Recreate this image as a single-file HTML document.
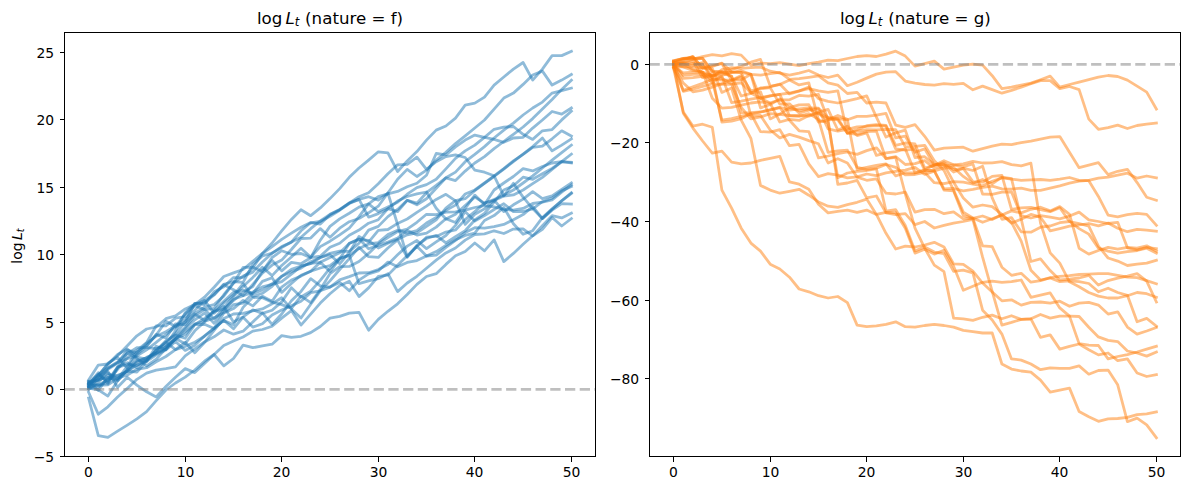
<!DOCTYPE html>
<html><head><meta charset="utf-8"><title>log L_t</title>
<style>
html,body{margin:0;padding:0;background:#fff;}
body{width:1189px;height:490px;overflow:hidden;}
svg{display:block;}
text{font-family:"DejaVu Sans","Liberation Sans",sans-serif;fill:#000;}
.tk{font-size:13.89px;}
.tt{font-size:16.67px;}
.it{font-style:italic;}
.ln{fill:none;stroke-width:2.78;stroke-linejoin:round;stroke-linecap:square;stroke-opacity:0.5;}
.fr{fill:none;stroke:#000;stroke-width:1;shape-rendering:crispEdges;}
</style></head><body>
<svg width="1189" height="490" viewBox="0 0 1189 490">
<rect x="0" y="0" width="1189" height="490" fill="#fff"/>
<defs>
<clipPath id="cl"><rect x="64.5" y="32.5" width="531" height="424"/></clipPath>
<clipPath id="cr"><rect x="649.5" y="32.5" width="531" height="424"/></clipPath>
</defs>

<g clip-path="url(#cl)">
<polyline class="ln" stroke="#1f77b4" points="88.6,380.1 98.3,365.1 107.9,364.0 117.6,355.8 127.3,345.8 136.9,335.8 146.6,329.0 156.2,327.0 165.9,318.7 175.5,315.8 185.2,308.9 194.8,304.6 204.5,297.2 214.1,287.2 223.8,276.5 233.5,272.9 243.1,269.5 252.8,261.4 262.4,253.4 272.1,243.0 281.7,230.8 291.4,219.4 301.0,209.8 310.7,215.7 320.3,207.9 330.0,198.6 339.7,188.6 349.3,177.3 359.0,168.0 368.6,160.1 378.3,151.8 387.9,152.9 397.6,171.5 407.2,160.9 416.9,151.6 426.5,140.1 436.2,130.1 445.9,126.0 455.5,118.1 465.2,105.1 474.8,103.1 484.5,97.1 494.1,85.1 503.8,77.0 513.4,69.1 523.1,62.5 532.7,80.1 542.4,69.1 552.1,55.6 561.7,55.6 571.4,51.4"/>
<polyline class="ln" stroke="#1f77b4" points="88.6,385.5 98.3,375.5 107.9,364.3 117.6,354.5 127.3,349.0 136.9,357.1 146.6,359.1 156.2,351.3 165.9,342.0 175.5,333.5 185.2,322.1 194.8,303.3 204.5,303.0 214.1,295.0 223.8,284.7 233.5,289.7 243.1,295.6 252.8,284.4 262.4,273.1 272.1,265.1 281.7,260.1 291.4,249.5 301.0,238.5 310.7,238.1 320.3,228.6 330.0,237.2 339.7,228.2 349.3,221.7 359.0,218.5 368.6,212.8 378.3,206.2 387.9,193.0 397.6,179.3 407.2,169.4 416.9,176.5 426.5,170.2 436.2,160.1 445.9,152.3 455.5,143.6 465.2,135.8 474.8,128.0 484.5,120.0 494.1,109.1 503.8,98.1 513.4,93.1 523.1,84.4 532.7,75.0 542.4,71.1 552.1,85.1 561.7,80.1 571.4,74.5"/>
<polyline class="ln" stroke="#1f77b4" points="88.6,386.8 98.3,375.8 107.9,363.3 117.6,357.4 127.3,368.1 136.9,354.5 146.6,346.3 156.2,334.4 165.9,338.0 175.5,323.8 185.2,324.8 194.8,314.1 204.5,320.5 214.1,310.4 223.8,301.2 233.5,292.4 243.1,290.0 252.8,293.8 262.4,289.9 272.1,283.8 281.7,276.3 291.4,271.8 301.0,268.2 310.7,261.7 320.3,257.5 330.0,253.4 339.7,251.1 349.3,251.4 359.0,243.3 368.6,230.1 378.3,226.4 387.9,216.6 397.6,209.4 407.2,200.3 416.9,204.8 426.5,198.8 436.2,188.3 445.9,177.8 455.5,180.6 465.2,171.1 474.8,163.0 484.5,156.6 494.1,148.6 503.8,141.5 513.4,134.3 523.1,127.0 532.7,118.6 542.4,109.1 552.1,99.5 561.7,89.4 571.4,80.1"/>
<polyline class="ln" stroke="#1f77b4" points="88.6,382.8 98.3,379.6 107.9,377.7 117.6,375.4 127.3,371.7 136.9,362.5 146.6,357.4 156.2,353.3 165.9,346.8 175.5,339.1 185.2,331.5 194.8,324.7 204.5,318.3 214.1,311.3 223.8,309.3 233.5,300.5 243.1,292.1 252.8,286.6 262.4,270.8 272.1,260.4 281.7,270.9 291.4,262.4 301.0,263.8 310.7,257.7 320.3,256.2 330.0,247.3 339.7,243.2 349.3,235.2 359.0,230.1 368.6,223.2 378.3,219.7 387.9,208.7 397.6,211.7 407.2,200.4 416.9,203.2 426.5,192.7 436.2,185.4 445.9,177.8 455.5,172.1 465.2,161.7 474.8,154.4 484.5,146.6 494.1,138.0 503.8,130.1 513.4,123.1 523.1,115.0 532.7,108.0 542.4,102.1 552.1,93.1 561.7,90.6 571.4,88.1"/>
<polyline class="ln" stroke="#1f77b4" points="88.6,384.1 98.3,374.1 107.9,381.7 117.6,369.5 127.3,357.7 136.9,350.4 146.6,342.7 156.2,325.8 165.9,325.9 175.5,318.1 185.2,316.7 194.8,305.6 204.5,309.6 214.1,308.3 223.8,294.7 233.5,283.0 243.1,267.4 252.8,267.1 262.4,271.6 272.1,257.5 281.7,250.7 291.4,254.3 301.0,253.5 310.7,257.7 320.3,240.2 330.0,226.4 339.7,218.9 349.3,213.2 359.0,207.1 368.6,203.9 378.3,196.7 387.9,193.8 397.6,191.4 407.2,186.8 416.9,183.3 426.5,175.2 436.2,153.5 445.9,154.9 455.5,146.9 465.2,140.1 474.8,135.1 484.5,137.3 494.1,139.4 503.8,142.3 513.4,138.0 523.1,137.3 532.7,128.1 542.4,120.0 552.1,111.5 561.7,114.1 571.4,108.0"/>
<polyline class="ln" stroke="#1f77b4" points="88.6,388.2 98.3,389.8 107.9,396.1 117.6,380.8 127.3,369.6 136.9,359.8 146.6,361.5 156.2,346.2 165.9,349.7 175.5,336.2 185.2,327.5 194.8,315.9 204.5,309.5 214.1,318.7 223.8,308.1 233.5,296.5 243.1,286.4 252.8,277.4 262.4,267.2 272.1,275.6 281.7,265.5 291.4,257.0 301.0,248.3 310.7,257.1 320.3,246.6 330.0,241.2 339.7,234.9 349.3,228.1 359.0,216.7 368.6,203.9 378.3,211.6 387.9,207.0 397.6,202.3 407.2,194.2 416.9,187.6 426.5,184.6 436.2,179.3 445.9,168.9 455.5,158.4 465.2,150.9 474.8,145.1 484.5,137.3 494.1,129.3 503.8,127.2 513.4,126.5 523.1,134.3 532.7,139.4 542.4,130.8 552.1,129.6 561.7,119.9 571.4,111.1"/>
<polyline class="ln" stroke="#1f77b4" points="88.6,385.5 98.3,385.4 107.9,384.8 117.6,378.5 127.3,371.1 136.9,365.2 146.6,360.9 156.2,350.5 165.9,340.7 175.5,335.1 185.2,338.3 194.8,324.6 204.5,324.3 214.1,328.5 223.8,313.1 233.5,308.6 243.1,300.4 252.8,305.9 262.4,296.2 272.1,301.2 281.7,287.1 291.4,280.0 301.0,276.1 310.7,271.3 320.3,268.0 330.0,265.5 339.7,258.2 349.3,255.4 359.0,248.5 368.6,244.0 378.3,242.6 387.9,234.6 397.6,230.2 407.2,233.2 416.9,230.5 426.5,223.0 436.2,217.4 445.9,210.4 455.5,205.1 465.2,194.0 474.8,190.0 484.5,183.0 494.1,175.8 503.8,168.7 513.4,160.9 523.1,154.4 532.7,147.3 542.4,146.2 552.1,138.8 561.7,130.8 571.4,136.1"/>
<polyline class="ln" stroke="#1f77b4" points="88.6,381.4 98.3,390.4 107.9,377.3 117.6,380.8 127.3,370.3 136.9,361.2 146.6,357.7 156.2,353.3 165.9,349.3 175.5,339.1 185.2,334.2 194.8,323.9 204.5,321.5 214.1,318.0 223.8,312.6 233.5,304.6 243.1,303.2 252.8,293.3 262.4,281.4 272.1,277.7 281.7,292.4 291.4,283.4 301.0,275.3 310.7,271.3 320.3,262.3 330.0,271.6 339.7,259.0 349.3,243.2 359.0,239.6 368.6,240.4 378.3,248.0 387.9,243.3 397.6,239.5 407.2,234.8 416.9,232.8 426.5,226.4 436.2,219.9 445.9,208.1 455.5,200.6 465.2,198.7 474.8,190.7 484.5,183.3 494.1,176.5 503.8,169.1 513.4,161.7 523.1,154.1 532.7,146.6 542.4,138.0 552.1,150.9 561.7,145.1 571.4,138.8"/>
<polyline class="ln" stroke="#1f77b4" points="88.6,389.5 98.3,381.9 107.9,372.8 117.6,379.4 127.3,366.1 136.9,351.8 146.6,345.6 156.2,335.0 165.9,321.2 175.5,326.5 185.2,314.0 194.8,304.7 204.5,300.6 214.1,294.5 223.8,284.3 233.5,281.7 243.1,282.4 252.8,264.4 262.4,256.0 272.1,253.1 281.7,247.5 291.4,242.0 301.0,237.2 310.7,228.7 320.3,221.0 330.0,214.3 339.7,209.4 349.3,202.9 359.0,199.4 368.6,196.7 378.3,200.1 387.9,193.0 397.6,224.5 407.2,256.6 416.9,246.6 426.5,237.2 436.2,236.4 445.9,232.1 455.5,230.0 465.2,219.6 474.8,211.6 484.5,203.1 494.1,199.6 503.8,195.0 513.4,190.0 523.1,183.0 532.7,175.8 542.4,168.0 552.1,160.1 561.7,152.7 571.4,145.1"/>
<polyline class="ln" stroke="#1f77b4" points="88.6,386.8 98.3,379.0 107.9,368.3 117.6,362.6 127.3,358.7 136.9,355.8 146.6,349.8 156.2,342.3 165.9,334.5 175.5,327.1 185.2,322.1 194.8,313.4 204.5,307.2 214.1,304.6 223.8,296.1 233.5,283.0 243.1,276.1 252.8,272.1 262.4,262.0 272.1,253.2 281.7,246.6 291.4,242.2 301.0,230.8 310.7,222.8 320.3,221.5 330.0,216.3 339.7,210.2 349.3,203.5 359.0,199.4 368.6,217.2 378.3,213.6 387.9,208.9 397.6,201.0 407.2,196.5 416.9,193.8 426.5,192.0 436.2,208.2 445.9,219.0 455.5,214.3 465.2,205.5 474.8,197.1 484.5,203.1 494.1,200.5 503.8,196.0 513.4,194.9 523.1,190.0 532.7,183.7 542.4,177.3 552.1,169.4 561.7,161.6 571.4,154.1"/>
<polyline class="ln" stroke="#1f77b4" points="88.6,384.1 98.3,372.6 107.9,383.9 117.6,368.1 127.3,352.5 136.9,358.5 146.6,365.8 156.2,359.2 165.9,348.4 175.5,338.7 185.2,328.8 194.8,319.8 204.5,313.1 214.1,323.3 223.8,310.0 233.5,299.2 243.1,295.8 252.8,292.1 262.4,286.9 272.1,284.3 281.7,281.7 291.4,274.1 301.0,266.4 310.7,263.4 320.3,262.3 330.0,257.4 339.7,252.7 349.3,243.4 359.0,238.8 368.6,248.8 378.3,245.3 387.9,242.1 397.6,238.1 407.2,230.5 416.9,235.1 426.5,233.1 436.2,227.1 445.9,218.8 455.5,222.5 465.2,208.5 474.8,195.1 484.5,204.5 494.1,190.0 503.8,183.0 513.4,176.5 523.1,168.7 532.7,170.9 542.4,166.5 552.1,163.0 561.7,161.6 571.4,162.2"/>
<polyline class="ln" stroke="#1f77b4" points="88.6,382.8 98.3,385.1 107.9,382.5 117.6,366.9 127.3,362.7 136.9,367.9 146.6,360.2 156.2,350.2 165.9,342.2 175.5,349.6 185.2,342.3 194.8,352.7 204.5,342.5 214.1,330.3 223.8,318.6 233.5,314.0 243.1,313.4 252.8,310.8 262.4,308.9 272.1,303.8 281.7,297.8 291.4,309.1 301.0,318.0 310.7,304.2 320.3,290.9 330.0,280.9 339.7,269.5 349.3,258.6 359.0,247.2 368.6,256.7 378.3,257.4 387.9,248.0 397.6,239.9 407.2,257.3 416.9,245.4 426.5,238.5 436.2,235.3 445.9,242.8 455.5,236.6 465.2,230.7 474.8,220.0 484.5,213.3 494.1,202.0 503.8,190.0 513.4,185.8 523.1,177.2 532.7,179.3 542.4,173.8 552.1,168.4 561.7,161.7 571.4,163.0"/>
<polyline class="ln" stroke="#1f77b4" points="88.6,385.5 98.3,379.3 107.9,369.4 117.6,363.2 127.3,350.1 136.9,353.1 146.6,343.1 156.2,336.2 165.9,331.7 175.5,326.0 185.2,319.4 194.8,310.4 204.5,300.4 214.1,313.2 223.8,303.1 233.5,295.1 243.1,283.7 252.8,296.7 262.4,293.3 272.1,286.3 281.7,276.3 291.4,269.3 301.0,266.0 310.7,263.6 320.3,257.5 330.0,254.7 339.7,263.8 349.3,252.5 359.0,236.4 368.6,242.1 378.3,230.4 387.9,229.5 397.6,223.4 407.2,219.0 416.9,212.4 426.5,206.2 436.2,199.4 445.9,194.3 455.5,200.8 465.2,224.4 474.8,214.3 484.5,208.9 494.1,200.0 503.8,211.6 513.4,204.8 523.1,199.1 532.7,191.6 542.4,198.6 552.1,195.8 561.7,189.3 571.4,182.9"/>
<polyline class="ln" stroke="#1f77b4" points="88.6,388.2 98.3,387.3 107.9,378.7 117.6,378.2 127.3,375.0 136.9,369.3 146.6,367.7 156.2,361.7 165.9,356.5 175.5,349.6 185.2,346.4 194.8,342.3 204.5,336.3 214.1,328.0 223.8,320.5 233.5,324.8 243.1,307.4 252.8,297.4 262.4,297.7 272.1,302.2 281.7,304.6 291.4,308.3 301.0,296.2 310.7,302.7 320.3,289.5 330.0,273.6 339.7,266.6 349.3,266.4 359.0,261.5 368.6,253.4 378.3,243.9 387.9,237.6 397.6,231.6 407.2,229.1 416.9,222.3 426.5,214.3 436.2,214.7 445.9,212.2 455.5,211.9 465.2,210.2 474.8,207.5 484.5,205.7 494.1,206.8 503.8,209.4 513.4,210.2 523.1,208.4 532.7,203.5 542.4,202.1 552.1,200.0 561.7,192.2 571.4,185.0"/>
<polyline class="ln" stroke="#1f77b4" points="88.6,381.4 98.3,380.6 107.9,375.0 117.6,376.0 127.3,371.1 136.9,372.0 146.6,361.4 156.2,354.8 165.9,349.9 175.5,341.5 185.2,350.4 194.8,345.3 204.5,335.9 214.1,328.6 223.8,320.3 233.5,328.8 243.1,317.2 252.8,327.1 262.4,323.8 272.1,314.9 281.7,310.0 291.4,305.7 301.0,301.2 310.7,292.7 320.3,290.8 330.0,287.1 339.7,279.9 349.3,276.6 359.0,273.0 368.6,272.7 378.3,269.5 387.9,264.5 397.6,254.8 407.2,246.1 416.9,240.5 426.5,248.6 436.2,241.8 445.9,235.5 455.5,225.4 465.2,211.7 474.8,221.0 484.5,215.6 494.1,209.5 503.8,203.7 513.4,211.6 523.1,211.5 532.7,209.0 542.4,201.7 552.1,198.1 561.7,190.8 571.4,186.5"/>
<polyline class="ln" stroke="#1f77b4" points="88.6,383.4 98.3,374.6 107.9,368.0 117.6,361.8 127.3,353.6 136.9,347.7 146.6,347.7 156.2,348.7 165.9,345.1 175.5,330.9 185.2,312.7 194.8,303.4 204.5,304.5 214.1,291.8 223.8,286.8 233.5,277.6 243.1,277.4 252.8,268.0 262.4,253.6 272.1,246.6 281.7,239.3 291.4,233.1 301.0,227.2 310.7,222.6 320.3,224.1 330.0,214.7 339.7,209.8 349.3,203.2 359.0,196.7 368.6,192.7 378.3,183.7 387.9,173.8 397.6,164.8 407.2,164.4 416.9,157.2 426.5,169.4 436.2,161.7 445.9,156.6 455.5,154.8 465.2,157.5 474.8,170.2 484.5,172.2 494.1,175.8 503.8,195.8 513.4,183.3 523.1,197.1 532.7,208.6 542.4,218.6 552.1,209.3 561.7,200.8 571.4,192.8"/>
<polyline class="ln" stroke="#1f77b4" points="88.6,384.1 98.3,377.4 107.9,371.4 117.6,387.2 127.3,377.2 136.9,385.1 146.6,391.8 156.2,396.9 165.9,386.5 175.5,377.2 185.2,368.6 194.8,372.6 204.5,363.6 214.1,354.5 223.8,345.4 233.5,341.0 243.1,337.0 252.8,331.1 262.4,329.5 272.1,326.2 281.7,318.1 291.4,310.6 301.0,325.1 310.7,314.1 320.3,303.1 330.0,293.8 339.7,285.8 349.3,281.2 359.0,296.6 368.6,287.9 378.3,276.3 387.9,275.1 397.6,265.2 407.2,255.7 416.9,246.2 426.5,256.0 436.2,251.6 445.9,245.3 455.5,239.8 465.2,235.4 474.8,233.1 484.5,220.5 494.1,215.6 503.8,207.5 513.4,223.7 523.1,234.3 532.7,230.7 542.4,217.6 552.1,208.9 561.7,200.8 571.4,193.4"/>
<polyline class="ln" stroke="#1f77b4" points="88.6,392.2 98.3,414.2 107.9,406.8 117.6,397.0 127.3,388.4 136.9,379.3 146.6,373.1 156.2,370.1 165.9,368.6 175.5,366.8 185.2,355.8 194.8,348.9 204.5,341.9 214.1,336.8 223.8,330.0 233.5,334.2 243.1,331.2 252.8,322.0 262.4,312.9 272.1,324.4 281.7,314.0 291.4,300.8 301.0,291.4 310.7,278.6 320.3,285.8 330.0,287.1 339.7,282.4 349.3,290.8 359.0,280.2 368.6,273.8 378.3,270.9 387.9,262.1 397.6,266.8 407.2,262.4 416.9,260.6 426.5,256.0 436.2,255.2 445.9,247.3 455.5,240.3 465.2,232.6 474.8,227.7 484.5,228.1 494.1,226.6 503.8,224.4 513.4,219.7 523.1,214.6 532.7,206.4 542.4,218.6 552.1,210.1 561.7,203.6 571.4,204.0"/>
<polyline class="ln" stroke="#1f77b4" points="88.6,387.5 98.3,384.5 107.9,380.3 117.6,367.2 127.3,364.7 136.9,365.2 146.6,359.9 156.2,353.5 165.9,346.6 175.5,338.6 185.2,343.7 194.8,330.8 204.5,321.9 214.1,311.5 223.8,306.4 233.5,322.1 243.1,317.0 252.8,309.9 262.4,313.4 272.1,310.2 281.7,301.9 291.4,287.7 301.0,297.0 310.7,291.2 320.3,280.4 330.0,268.2 339.7,258.9 349.3,255.1 359.0,283.7 368.6,280.9 378.3,278.7 387.9,273.7 397.6,291.6 407.2,283.0 416.9,276.3 426.5,268.2 436.2,260.1 445.9,252.9 455.5,248.0 465.2,240.1 474.8,234.5 484.5,233.9 494.1,230.8 503.8,233.5 513.4,229.1 523.1,229.0 532.7,235.9 542.4,225.7 552.1,215.7 561.7,217.9 571.4,213.2"/>
<polyline class="ln" stroke="#1f77b4" points="88.6,398.1 98.3,435.7 107.9,437.4 117.6,431.2 127.3,425.1 136.9,418.8 146.6,411.7 156.2,400.7 165.9,390.0 175.5,383.0 185.2,377.1 194.8,370.0 204.5,361.2 214.1,354.5 223.8,365.8 233.5,358.5 243.1,345.1 252.8,347.7 262.4,345.8 272.1,344.2 281.7,335.6 291.4,337.4 301.0,336.3 310.7,332.6 320.3,326.5 330.0,318.1 339.7,316.4 349.3,313.1 359.0,312.3 368.6,330.2 378.3,319.4 387.9,311.3 397.6,303.8 407.2,294.5 416.9,284.4 426.5,276.5 436.2,273.7 445.9,264.4 455.5,255.8 465.2,251.5 474.8,243.0 484.5,250.8 494.1,239.9 503.8,261.6 513.4,253.4 523.1,244.3 532.7,235.8 542.4,229.4 552.1,217.5 561.7,226.0 571.4,218.6"/>
<line x1="64.5" x2="595.5" y1="389.4" y2="389.4" stroke="#808080" stroke-opacity="0.5" stroke-width="2.78" stroke-dasharray="10.28 4.44"/>
</g>
<g clip-path="url(#cr)">
<polyline class="ln" stroke="#ff7f0e" points="673.6,61.4 683.3,58.6 692.9,59.0 702.6,56.6 712.3,54.7 721.9,55.9 731.6,53.7 741.2,55.1 750.9,65.1 760.5,63.1 770.2,63.7 779.8,62.7 789.5,64.1 799.1,65.7 808.8,63.7 818.5,62.1 828.1,60.1 837.8,60.7 847.4,58.5 857.1,56.5 866.7,55.7 876.4,56.5 886.0,54.1 895.7,51.2 905.3,56.1 915.0,66.1 924.7,63.7 934.3,61.1 944.0,69.1 953.6,67.2 963.3,65.1 972.9,64.1 982.6,65.1 992.2,75.7 1001.9,88.7 1011.5,87.1 1021.2,85.1 1030.9,83.1 1040.5,79.7 1050.2,76.1 1059.8,87.1 1069.5,84.5 1079.1,82.2 1088.8,79.7 1098.4,77.1 1108.1,75.5 1117.7,76.5 1127.4,80.1 1137.1,86.1 1146.7,92.1 1156.4,109.1"/>
<polyline class="ln" stroke="#ff7f0e" points="673.6,63.7 683.3,62.8 692.9,65.4 702.6,62.5 712.3,77.4 721.9,69.5 731.6,67.6 741.2,68.3 750.9,67.7 760.5,67.1 770.2,71.2 779.8,73.1 789.5,75.1 799.1,73.1 808.8,70.5 818.5,75.1 828.1,77.5 837.8,75.1 847.4,85.7 857.1,82.2 866.7,78.1 876.4,74.1 886.0,72.1 895.7,71.7 905.3,81.1 915.0,83.1 924.7,84.5 934.3,85.1 944.0,83.7 953.6,84.3 963.3,83.3 972.9,89.8 982.6,86.1 992.2,89.6 1001.9,93.2 1011.5,90.4 1021.2,87.1 1030.9,83.7 1040.5,80.6 1050.2,80.6 1059.8,88.7 1069.5,86.5 1079.1,89.6 1088.8,119.1 1098.4,129.3 1108.1,127.7 1117.7,125.1 1127.4,128.5 1137.1,125.5 1146.7,124.2 1156.4,123.1"/>
<polyline class="ln" stroke="#ff7f0e" points="673.6,65.7 683.3,62.4 692.9,61.4 702.6,77.7 712.3,76.3 721.9,122.2 731.6,121.2 741.2,118.7 750.9,113.6 760.5,131.6 770.2,132.2 779.8,129.7 789.5,145.7 799.1,144.4 808.8,163.8 818.5,176.6 828.1,173.6 837.8,175.2 847.4,177.9 857.1,176.8 866.7,174.0 876.4,175.6 886.0,172.8 895.7,171.3 905.3,170.1 915.0,167.3 924.7,174.4 934.3,171.1 944.0,188.9 953.6,188.5 963.3,190.9 972.9,189.3 982.6,187.4 992.2,186.2 1001.9,188.9 1011.5,189.2 1021.2,188.1 1030.9,190.3 1040.5,190.3 1050.2,188.1 1059.8,185.8 1069.5,183.2 1079.1,181.2 1088.8,180.3 1098.4,178.2 1108.1,177.1 1117.7,175.2 1127.4,173.2 1137.1,178.2 1146.7,176.0 1156.4,177.9"/>
<polyline class="ln" stroke="#ff7f0e" points="673.6,62.5 683.3,59.4 692.9,56.9 702.6,68.0 712.3,66.5 721.9,63.1 731.6,71.9 741.2,72.4 750.9,74.3 760.5,75.1 770.2,73.6 779.8,72.4 789.5,79.4 799.1,78.6 808.8,77.3 818.5,75.9 828.1,82.9 837.8,85.1 847.4,93.5 857.1,92.4 866.7,103.0 876.4,102.2 886.0,103.0 895.7,125.1 905.3,127.3 915.0,124.6 924.7,136.3 934.3,150.1 944.0,148.1 953.6,147.7 963.3,147.2 972.9,151.2 982.6,148.6 992.2,146.2 1001.9,144.2 1011.5,144.6 1021.2,142.6 1030.9,141.2 1040.5,139.2 1050.2,137.2 1059.8,136.6 1069.5,152.2 1079.1,167.7 1088.8,165.2 1098.4,162.6 1108.1,174.6 1117.7,171.3 1127.4,169.3 1137.1,182.6 1146.7,197.2 1156.4,200.3"/>
<polyline class="ln" stroke="#ff7f0e" points="673.6,64.5 683.3,62.7 692.9,59.2 702.6,58.2 712.3,71.9 721.9,72.3 731.6,72.5 741.2,70.7 750.9,74.2 760.5,98.6 770.2,95.9 779.8,94.4 789.5,115.9 799.1,116.4 808.8,113.6 818.5,119.4 828.1,152.4 837.8,150.8 847.4,150.1 857.1,167.3 866.7,169.3 876.4,168.1 886.0,164.5 895.7,167.3 905.3,174.9 915.0,174.5 924.7,172.4 934.3,182.7 944.0,183.6 953.6,181.6 963.3,182.2 972.9,184.2 982.6,185.8 992.2,181.2 1001.9,177.9 1011.5,179.1 1021.2,180.3 1030.9,179.9 1040.5,179.5 1050.2,180.3 1059.8,179.1 1069.5,177.5 1079.1,180.3 1088.8,180.7 1098.4,196.4 1108.1,215.2 1117.7,216.8 1127.4,214.7 1137.1,213.3 1146.7,214.4 1156.4,225.3"/>
<polyline class="ln" stroke="#ff7f0e" points="673.6,60.6 683.3,58.5 692.9,58.4 702.6,58.6 712.3,71.4 721.9,71.5 731.6,76.3 741.2,112.9 750.9,112.7 760.5,112.0 770.2,110.2 779.8,107.7 789.5,120.2 799.1,130.8 808.8,131.6 818.5,157.9 828.1,156.0 837.8,153.6 847.4,152.0 857.1,154.4 866.7,150.6 876.4,147.8 886.0,158.5 895.7,156.7 905.3,164.5 915.0,163.6 924.7,160.7 934.3,168.2 944.0,165.8 953.6,165.0 963.3,163.8 972.9,161.4 982.6,163.0 992.2,162.8 1001.9,161.6 1011.5,164.6 1021.2,165.8 1030.9,163.2 1040.5,223.1 1050.2,252.9 1059.8,263.1 1069.5,281.8 1079.1,286.7 1088.8,292.5 1098.4,296.1 1108.1,298.0 1117.7,298.0 1127.4,295.7 1137.1,292.5 1146.7,293.7 1156.4,297.3"/>
<polyline class="ln" stroke="#ff7f0e" points="673.6,66.5 683.3,72.9 692.9,72.2 702.6,72.1 712.3,75.6 721.9,73.2 731.6,76.3 741.2,96.0 750.9,93.3 760.5,87.9 770.2,86.9 779.8,84.1 789.5,93.9 799.1,91.1 808.8,87.0 818.5,98.6 828.1,101.4 837.8,103.0 847.4,100.8 857.1,98.6 866.7,95.9 876.4,117.1 886.0,137.1 895.7,132.8 905.3,130.1 915.0,157.5 924.7,156.7 934.3,164.6 944.0,164.6 953.6,182.2 963.3,197.9 972.9,207.2 982.6,205.0 992.2,206.6 1001.9,214.4 1011.5,223.1 1021.2,219.3 1030.9,214.4 1040.5,217.2 1050.2,230.9 1059.8,228.6 1069.5,226.2 1079.1,225.0 1088.8,223.5 1098.4,225.8 1108.1,223.1 1117.7,228.2 1127.4,231.7 1137.1,229.3 1146.7,230.1 1156.4,231.3"/>
<polyline class="ln" stroke="#ff7f0e" points="673.6,63.3 683.3,75.3 692.9,74.4 702.6,74.1 712.3,75.0 721.9,76.3 731.6,102.6 741.2,101.2 750.9,99.1 760.5,97.5 770.2,95.9 779.8,94.3 789.5,93.0 799.1,90.8 808.8,88.6 818.5,90.8 828.1,92.4 837.8,90.8 847.4,133.2 857.1,131.2 866.7,129.6 876.4,129.8 886.0,129.4 895.7,129.6 905.3,146.9 915.0,146.3 924.7,145.3 934.3,160.7 944.0,170.5 953.6,190.1 963.3,212.1 972.9,218.0 982.6,222.3 992.2,218.8 1001.9,215.0 1011.5,210.9 1021.2,212.9 1030.9,209.3 1040.5,207.2 1050.2,210.9 1059.8,206.6 1069.5,214.4 1079.1,248.2 1088.8,254.1 1098.4,250.5 1108.1,247.4 1117.7,249.2 1127.4,247.4 1137.1,248.2 1146.7,245.8 1156.4,251.1"/>
<polyline class="ln" stroke="#ff7f0e" points="673.6,67.6 683.3,83.0 692.9,91.8 702.6,90.1 712.3,87.1 721.9,83.6 731.6,80.2 741.2,79.9 750.9,74.3 760.5,107.9 770.2,104.5 779.8,98.9 789.5,107.7 799.1,104.9 808.8,104.6 818.5,122.1 828.1,120.0 837.8,118.7 847.4,119.8 857.1,116.4 866.7,116.3 876.4,115.1 886.0,113.4 895.7,137.9 905.3,136.2 915.0,152.3 924.7,148.9 934.3,165.2 944.0,160.7 953.6,164.8 963.3,166.6 972.9,163.9 982.6,194.0 992.2,194.3 1001.9,192.2 1011.5,191.9 1021.2,215.6 1030.9,218.0 1040.5,215.6 1050.2,217.2 1059.8,218.8 1069.5,216.0 1079.1,212.1 1088.8,219.9 1098.4,221.5 1108.1,223.5 1117.7,222.3 1127.4,247.8 1137.1,249.8 1146.7,247.4 1156.4,248.6"/>
<polyline class="ln" stroke="#ff7f0e" points="673.6,62.1 683.3,63.7 692.9,69.2 702.6,72.3 712.3,80.2 721.9,120.2 731.6,118.7 741.2,116.3 750.9,114.2 760.5,112.0 770.2,109.6 779.8,107.3 789.5,110.0 799.1,108.9 808.8,107.9 818.5,108.2 828.1,117.5 837.8,118.5 847.4,133.2 857.1,129.6 866.7,125.7 876.4,124.6 886.0,125.3 895.7,145.4 905.3,143.0 915.0,144.0 924.7,168.0 934.3,165.4 944.0,162.6 953.6,169.7 963.3,168.5 972.9,181.6 982.6,182.2 992.2,176.4 1001.9,175.3 1011.5,209.4 1021.2,207.8 1030.9,207.4 1040.5,209.7 1050.2,211.7 1059.8,207.8 1069.5,221.5 1079.1,228.6 1088.8,234.1 1098.4,248.2 1108.1,251.1 1117.7,253.1 1127.4,251.7 1137.1,250.5 1146.7,248.2 1156.4,253.1"/>
<polyline class="ln" stroke="#ff7f0e" points="673.6,64.1 683.3,66.9 692.9,70.4 702.6,72.0 712.3,98.3 721.9,108.1 731.6,107.3 741.2,105.1 750.9,103.0 760.5,101.8 770.2,103.4 779.8,122.0 789.5,119.4 799.1,120.4 808.8,115.5 818.5,112.2 828.1,109.4 837.8,130.0 847.4,126.3 857.1,135.6 866.7,132.8 876.4,155.4 886.0,152.9 895.7,151.7 905.3,148.9 915.0,172.6 924.7,169.9 934.3,164.8 944.0,163.8 953.6,172.0 963.3,168.2 972.9,170.5 982.6,166.2 992.2,197.9 1001.9,219.3 1011.5,217.6 1021.2,231.8 1030.9,232.2 1040.5,227.2 1050.2,226.0 1059.8,222.7 1069.5,221.5 1079.1,223.5 1088.8,226.2 1098.4,246.2 1108.1,258.0 1117.7,261.1 1127.4,265.5 1137.1,264.2 1146.7,263.1 1156.4,260.2"/>
<polyline class="ln" stroke="#ff7f0e" points="673.6,65.3 683.3,65.0 692.9,63.3 702.6,64.2 712.3,78.9 721.9,80.2 731.6,80.2 741.2,77.1 750.9,116.0 760.5,115.5 770.2,130.0 779.8,137.9 789.5,134.4 799.1,137.1 808.8,140.6 818.5,143.8 828.1,163.0 837.8,158.7 847.4,163.0 857.1,177.1 866.7,180.3 876.4,178.9 886.0,193.2 895.7,194.0 905.3,192.1 915.0,212.2 924.7,209.7 934.3,209.3 944.0,213.7 953.6,211.9 963.3,218.8 972.9,218.4 982.6,245.8 992.2,246.6 1001.9,267.2 1011.5,275.3 1021.2,273.3 1030.9,282.2 1040.5,280.6 1050.2,277.6 1059.8,276.4 1069.5,275.7 1079.1,274.5 1088.8,274.1 1098.4,273.7 1108.1,273.7 1117.7,275.3 1127.4,277.2 1137.1,277.6 1146.7,280.6 1156.4,283.8"/>
<polyline class="ln" stroke="#ff7f0e" points="673.6,61.0 683.3,58.3 692.9,57.1 702.6,74.4 712.3,82.6 721.9,75.5 731.6,72.3 741.2,72.5 750.9,93.0 760.5,98.3 770.2,102.9 779.8,100.0 789.5,99.8 799.1,95.4 808.8,96.2 818.5,94.4 828.1,119.7 837.8,115.5 847.4,119.4 857.1,169.3 866.7,167.3 876.4,165.4 886.0,163.8 895.7,175.9 905.3,172.8 915.0,173.0 924.7,170.5 934.3,170.9 944.0,168.1 953.6,167.5 963.3,176.4 972.9,183.2 982.6,179.5 992.2,183.8 1001.9,177.1 1011.5,178.7 1021.2,218.8 1030.9,261.5 1040.5,258.8 1050.2,270.6 1059.8,280.0 1069.5,279.2 1079.1,278.0 1088.8,275.3 1098.4,285.1 1108.1,280.6 1117.7,278.2 1127.4,276.1 1137.1,273.7 1146.7,281.2 1156.4,302.0"/>
<polyline class="ln" stroke="#ff7f0e" points="673.6,66.9 683.3,66.9 692.9,66.9 702.6,67.9 712.3,65.4 721.9,63.7 731.6,80.2 741.2,75.4 750.9,90.9 760.5,88.7 770.2,87.6 779.8,104.1 789.5,103.8 799.1,113.1 808.8,110.2 818.5,108.9 828.1,128.9 837.8,131.2 847.4,129.3 857.1,126.8 866.7,126.4 876.4,125.7 886.0,126.2 895.7,148.9 905.3,150.1 915.0,149.1 924.7,170.5 934.3,170.5 944.0,190.1 953.6,190.9 963.3,215.6 972.9,218.4 982.6,216.0 992.2,219.5 1001.9,214.8 1011.5,222.3 1021.2,241.1 1030.9,270.2 1040.5,280.0 1050.2,278.0 1059.8,281.6 1069.5,280.8 1079.1,281.6 1088.8,283.5 1098.4,291.8 1108.1,288.2 1117.7,292.5 1127.4,295.3 1137.1,321.8 1146.7,318.4 1156.4,326.1"/>
<polyline class="ln" stroke="#ff7f0e" points="673.6,62.9 683.3,60.0 692.9,56.4 702.6,68.4 712.3,68.6 721.9,92.4 731.6,88.0 741.2,120.2 750.9,138.3 760.5,185.4 770.2,190.1 779.8,193.2 789.5,191.3 799.1,189.3 808.8,195.2 818.5,201.9 828.1,206.2 837.8,207.4 847.4,204.6 857.1,202.3 866.7,199.1 876.4,214.4 886.0,233.3 895.7,249.0 905.3,246.2 915.0,247.0 924.7,245.0 934.3,242.3 944.0,247.0 953.6,263.9 963.3,264.3 972.9,271.2 982.6,283.1 992.2,292.1 1001.9,300.8 1011.5,299.8 1021.2,305.1 1030.9,302.4 1040.5,302.0 1050.2,303.1 1059.8,301.2 1069.5,306.3 1079.1,303.1 1088.8,302.4 1098.4,305.1 1108.1,314.1 1117.7,311.8 1127.4,327.1 1137.1,334.1 1146.7,331.0 1156.4,327.5"/>
<polyline class="ln" stroke="#ff7f0e" points="673.6,64.5 683.3,113.2 692.9,128.1 702.6,141.0 712.3,153.2 721.9,151.2 731.6,162.2 741.2,163.8 750.9,163.0 760.5,160.3 770.2,158.3 779.8,156.3 789.5,181.9 799.1,184.2 808.8,189.3 818.5,204.2 828.1,212.9 837.8,211.3 847.4,210.1 857.1,212.3 866.7,210.1 876.4,214.4 886.0,212.3 895.7,212.7 905.3,228.2 915.0,253.1 924.7,249.2 934.3,254.1 944.0,250.2 953.6,266.2 963.3,290.2 972.9,286.3 982.6,282.3 992.2,281.2 1001.9,282.3 1011.5,281.6 1021.2,280.0 1030.9,297.3 1040.5,295.1 1050.2,292.9 1059.8,307.9 1069.5,316.1 1079.1,343.6 1088.8,345.1 1098.4,345.5 1108.1,358.9 1117.7,356.5 1127.4,354.6 1137.1,352.0 1146.7,349.1 1156.4,346.3"/>
<polyline class="ln" stroke="#ff7f0e" points="673.6,61.8 683.3,91.4 692.9,89.1 702.6,86.3 712.3,83.8 721.9,84.4 731.6,84.1 741.2,107.5 750.9,118.8 760.5,117.0 770.2,113.6 779.8,114.3 789.5,115.5 799.1,115.4 808.8,116.1 818.5,113.1 828.1,117.9 837.8,120.0 847.4,133.2 857.1,134.3 866.7,131.7 876.4,131.1 886.0,158.7 895.7,157.4 905.3,194.0 915.0,228.2 924.7,248.2 934.3,265.1 944.0,271.7 953.6,318.1 963.3,318.8 972.9,320.4 982.6,317.3 992.2,315.1 1001.9,318.8 1011.5,315.7 1021.2,319.4 1030.9,318.8 1040.5,314.5 1050.2,318.1 1059.8,316.1 1069.5,316.1 1079.1,316.5 1088.8,327.3 1098.4,336.9 1108.1,340.4 1117.7,341.6 1127.4,351.0 1137.1,353.0 1146.7,356.1 1156.4,352.0"/>
<polyline class="ln" stroke="#ff7f0e" points="673.6,68.4 683.3,90.4 692.9,86.8 702.6,83.4 712.3,79.5 721.9,78.2 731.6,84.1 741.2,82.9 750.9,92.9 760.5,91.8 770.2,118.9 779.8,114.1 789.5,107.7 799.1,110.8 808.8,109.0 818.5,113.6 828.1,120.2 837.8,184.4 847.4,183.0 857.1,180.3 866.7,197.9 876.4,196.0 886.0,212.9 895.7,214.6 905.3,213.7 915.0,224.6 924.7,221.5 934.3,228.0 944.0,225.4 953.6,223.1 963.3,221.5 972.9,219.3 982.6,257.2 992.2,291.4 1001.9,325.1 1011.5,322.4 1021.2,319.4 1030.9,318.8 1040.5,337.3 1050.2,334.9 1059.8,349.1 1069.5,346.3 1079.1,344.0 1088.8,349.7 1098.4,354.9 1108.1,353.0 1117.7,360.6 1127.4,358.9 1137.1,373.0 1146.7,376.5 1156.4,374.6"/>
<polyline class="ln" stroke="#ff7f0e" points="673.6,68.4 683.3,112.0 692.9,126.1 702.6,124.2 712.3,127.3 721.9,190.1 731.6,208.2 741.2,228.2 750.9,243.1 760.5,251.1 770.2,264.2 779.8,269.0 789.5,277.2 799.1,289.0 808.8,291.8 818.5,295.7 828.1,298.0 837.8,296.5 847.4,302.6 857.1,325.1 866.7,326.7 876.4,325.9 886.0,324.3 895.7,321.8 905.3,326.7 915.0,327.1 924.7,325.5 934.3,324.3 944.0,325.5 953.6,327.1 963.3,330.4 972.9,331.6 982.6,333.0 992.2,333.0 1001.9,364.0 1011.5,369.1 1021.2,371.0 1030.9,372.1 1040.5,380.1 1050.2,392.1 1059.8,390.1 1069.5,388.1 1079.1,411.5 1088.8,416.8 1098.4,421.3 1108.1,418.9 1117.7,418.5 1127.4,417.4 1137.1,414.6 1146.7,413.8 1156.4,411.9"/>
<polyline class="ln" stroke="#ff7f0e" points="673.6,64.5 683.3,78.4 692.9,77.6 702.6,76.4 712.3,75.3 721.9,72.3 731.6,69.6 741.2,66.2 750.9,62.2 760.5,59.4 770.2,86.1 779.8,84.6 789.5,80.0 799.1,84.9 808.8,82.9 818.5,120.2 828.1,122.6 837.8,177.7 847.4,173.0 857.1,171.3 866.7,170.5 876.4,168.8 886.0,211.1 895.7,209.7 905.3,225.4 915.0,250.9 924.7,247.0 934.3,252.1 944.0,253.7 953.6,271.3 963.3,270.2 972.9,272.9 982.6,310.2 992.2,320.0 1001.9,334.1 1011.5,358.9 1021.2,360.1 1030.9,364.0 1040.5,369.7 1050.2,367.9 1059.8,368.3 1069.5,368.3 1079.1,365.9 1088.8,374.2 1098.4,370.5 1108.1,370.1 1117.7,384.8 1127.4,421.7 1137.1,418.1 1146.7,424.8 1156.4,437.8"/>
<line x1="649.5" x2="1180.5" y1="64.4" y2="64.4" stroke="#808080" stroke-opacity="0.5" stroke-width="2.78" stroke-dasharray="10.28 4.44"/>
</g>
<rect class="fr" x="64.5" y="32.5" width="531" height="424"/>
<rect class="fr" x="649.5" y="32.5" width="531" height="424"/>
<line class="fr" x1="88.5" x2="88.5" y1="456.5" y2="461.5"/>
<text class="tk" text-anchor="middle" x="88.5" y="476.9">0</text>
<line class="fr" x1="673.5" x2="673.5" y1="456.5" y2="461.5"/>
<text class="tk" text-anchor="middle" x="673.5" y="476.9">0</text>
<line class="fr" x1="185.5" x2="185.5" y1="456.5" y2="461.5"/>
<text class="tk" text-anchor="middle" x="185.5" y="476.9">10</text>
<line class="fr" x1="770.5" x2="770.5" y1="456.5" y2="461.5"/>
<text class="tk" text-anchor="middle" x="770.5" y="476.9">10</text>
<line class="fr" x1="281.5" x2="281.5" y1="456.5" y2="461.5"/>
<text class="tk" text-anchor="middle" x="281.5" y="476.9">20</text>
<line class="fr" x1="866.5" x2="866.5" y1="456.5" y2="461.5"/>
<text class="tk" text-anchor="middle" x="866.5" y="476.9">20</text>
<line class="fr" x1="378.5" x2="378.5" y1="456.5" y2="461.5"/>
<text class="tk" text-anchor="middle" x="378.5" y="476.9">30</text>
<line class="fr" x1="963.5" x2="963.5" y1="456.5" y2="461.5"/>
<text class="tk" text-anchor="middle" x="963.5" y="476.9">30</text>
<line class="fr" x1="474.5" x2="474.5" y1="456.5" y2="461.5"/>
<text class="tk" text-anchor="middle" x="474.5" y="476.9">40</text>
<line class="fr" x1="1059.5" x2="1059.5" y1="456.5" y2="461.5"/>
<text class="tk" text-anchor="middle" x="1059.5" y="476.9">40</text>
<line class="fr" x1="571.5" x2="571.5" y1="456.5" y2="461.5"/>
<text class="tk" text-anchor="middle" x="571.5" y="476.9">50</text>
<line class="fr" x1="1156.5" x2="1156.5" y1="456.5" y2="461.5"/>
<text class="tk" text-anchor="middle" x="1156.5" y="476.9">50</text>
<line class="fr" x1="59.5" x2="64.5" y1="456.5" y2="456.5"/>
<text class="tk" text-anchor="end" x="54.2" y="461.8">−5</text>
<line class="fr" x1="59.5" x2="64.5" y1="389.5" y2="389.5"/>
<text class="tk" text-anchor="end" x="54.2" y="394.8">0</text>
<line class="fr" x1="59.5" x2="64.5" y1="322.5" y2="322.5"/>
<text class="tk" text-anchor="end" x="54.2" y="327.8">5</text>
<line class="fr" x1="59.5" x2="64.5" y1="254.5" y2="254.5"/>
<text class="tk" text-anchor="end" x="54.2" y="259.8">10</text>
<line class="fr" x1="59.5" x2="64.5" y1="187.5" y2="187.5"/>
<text class="tk" text-anchor="end" x="54.2" y="192.8">15</text>
<line class="fr" x1="59.5" x2="64.5" y1="119.5" y2="119.5"/>
<text class="tk" text-anchor="end" x="54.2" y="124.8">20</text>
<line class="fr" x1="59.5" x2="64.5" y1="52.5" y2="52.5"/>
<text class="tk" text-anchor="end" x="54.2" y="57.8">25</text>
<line class="fr" x1="644.5" x2="649.5" y1="378.5" y2="378.5"/>
<text class="tk" text-anchor="end" x="639.2" y="383.8">−80</text>
<line class="fr" x1="644.5" x2="649.5" y1="300.5" y2="300.5"/>
<text class="tk" text-anchor="end" x="639.2" y="305.8">−60</text>
<line class="fr" x1="644.5" x2="649.5" y1="221.5" y2="221.5"/>
<text class="tk" text-anchor="end" x="639.2" y="226.8">−40</text>
<line class="fr" x1="644.5" x2="649.5" y1="142.5" y2="142.5"/>
<text class="tk" text-anchor="end" x="639.2" y="147.8">−20</text>
<line class="fr" x1="644.5" x2="649.5" y1="64.5" y2="64.5"/>
<text class="tk" text-anchor="end" x="639.2" y="69.8">0</text>
<text class="tt" text-anchor="middle" x="330.0" y="24.2">log<tspan dx="3.2" class="it">L</tspan><tspan class="it" font-size="11.67" dy="1.8">t</tspan><tspan dy="-1.8" dx="0.5"> (nature = f)</tspan></text>
<text class="tt" text-anchor="middle" x="915.4" y="24.2">log<tspan dx="3.2" class="it">L</tspan><tspan class="it" font-size="11.67" dy="1.8">t</tspan><tspan dy="-1.8" dx="0.5"> (nature = g)</tspan></text>
<text class="tk" text-anchor="middle" transform="translate(22.4,246) rotate(-90)">log<tspan dx="2.6" class="it">L</tspan><tspan class="it" font-size="9.72" dy="1.6">t</tspan></text>
</svg></body></html>
